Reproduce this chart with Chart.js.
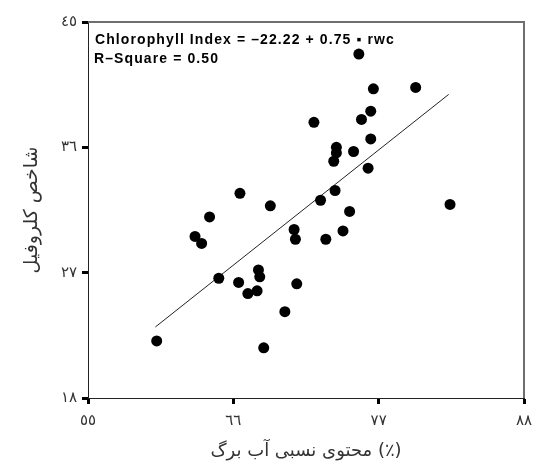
<!DOCTYPE html>
<html>
<head>
<meta charset="utf-8">
<script src="https://cdn.jsdelivr.net/npm/chart.js@4.4.1/dist/chart.umd.min.js"></script>
<style>
    html, body { margin: 0; padding: 0; background: #fff; }
    #wrap { width: 536px; height: 466px; }
</style>
</head>
<body>
<div id="wrap"><canvas id="chart1"></canvas></div>
<script>
// rwc (x) / chlorophyll index (y)
var rwc = [75.5, 76.6, 79.8, 76.4, 75.7, 72.1, 76.4, 73.8, 73.8, 73.6, 75.1, 76.2, 73.7, 72.6, 66.5, 68.8, 64.2, 63.1, 63.6, 74.8,
           74.3, 73.0, 70.6, 70.7, 82.4, 64.9, 66.4, 67.1, 67.8, 67.9, 68.0, 70.8, 69.9, 68.3, 60.2];
var chl = [42.7, 40.2, 40.3, 38.6, 38.0, 37.8, 36.6, 36.0, 35.6, 35.0, 35.7, 34.5, 32.9, 32.2, 32.7, 31.8, 31.0, 29.6, 29.1, 31.4,
           30.0, 29.4, 30.1, 29.4, 31.9, 26.6, 26.3, 25.5, 25.7, 27.2, 26.7, 26.2, 24.2, 21.6, 22.1];

// regression line ends
var fitX = [60.1, 82.3];
var fitY = [23.1, 39.8];

var xTicks = [55, 66, 77, 88];
var yTicks = [18, 27, 36, 45];

var xTitle = 'محتوی نسبی آب برگ (٪)';
var yTitle = 'شاخص کلروفیل';
var noteLines = ['Chlorophyll Index = \u201322.22 + 0.75 \u25AA rwc', 'R\u2013Square = 0.50'];

// arabic-indic digits
function toArabic(n) {
    var d = '٠١٢٣٤٥٦٧٨٩';
    return String(n).replace(/[0-9]/g, function(c){ return d[+c]; });
}

var pts = [];
for (var i = 0; i < rwc.length; i++) pts.push({x: rwc[i], y: chl[i]});
var fit = [];
for (var j = 0; j < fitX.length; j++) fit.push({x: fitX[j], y: fitY[j]});

// top/right frame + equation text
var framePlugin = {
    id: 'frame',
    beforeDatasetsDraw: function(chart) {
        var a = chart.chartArea, ctx = chart.ctx;
        ctx.save();
        ctx.strokeStyle = '#6e6e6e';
        ctx.lineWidth = 2;
        ctx.beginPath();
        ctx.moveTo(a.left, a.top);
        ctx.lineTo(a.right, a.top);
        ctx.lineTo(a.right, a.bottom);
        ctx.stroke();
        ctx.restore();
    },
    afterDatasetsDraw: function(chart) {
        var a = chart.chartArea, ctx = chart.ctx;
        ctx.save();
        ctx.fillStyle = '#000';
        ctx.font = 'bold 14px "Liberation Sans", Arial, sans-serif';
        ctx.letterSpacing = '1.1px';
        ctx.textBaseline = 'middle';
        ctx.fillText(noteLines[0], a.left + 7, a.top + 18);
        ctx.fillText(noteLines[1], a.left + 6, a.top + 37);
        ctx.restore();
    }
};

var ctx = document.getElementById('chart1');
new Chart(ctx, {
    type: 'scatter',
    data: {
        datasets: [{
            data: pts,
            backgroundColor: '#000',
            borderColor: '#000',
            borderWidth: 0,
            pointRadius: 5.5,
            order: 1
        }, {
            type: 'line',
            data: fit,
            borderColor: '#222',
            borderWidth: 1,
            pointRadius: 0,
            fill: false,
            order: 2
        }]
    },
    options: {
        responsive: true,
        maintainAspectRatio: false,
        animation: false,
        layout: { padding: { top: 22, right: 12, left: 0, bottom: 0 } },
        plugins: {
            legend: { display: false },
            tooltip: { enabled: false }
        },
        scales: {
            x: {
                type: 'linear',
                min: 55,
                max: 88,
                afterFit: function(s) { s.height = 68; s.paddingLeft = 0; s.paddingRight = 0; },
                afterBuildTicks: function(s) { s.ticks = xTicks.map(function(v){ return {value: v}; }); },
                border: { display: true, color: '#222', width: 1 },
                grid: { drawOnChartArea: false, drawTicks: true, tickLength: 6, tickWidth: 3, color: '#000' },
                ticks: {
                    padding: 8,
                    color: '#333',
                    font: { family: '"DejaVu Sans", sans-serif', size: 15 },
                    callback: function(v) { return toArabic(v); }
                },
                title: {
                    display: true,
                    text: xTitle,
                    color: '#333',
                    font: { family: '"DejaVu Sans", sans-serif', size: 18 },
                    padding: { top: 0, bottom: 4 }
                }
            },
            y: {
                type: 'linear',
                min: 18,
                max: 45,
                afterFit: function(s) { s.width = 88; },
                afterBuildTicks: function(s) { s.ticks = yTicks.map(function(v){ return {value: v}; }); },
                border: { display: true, color: '#222', width: 1 },
                grid: { drawOnChartArea: false, drawTicks: true, tickLength: 6, tickWidth: 3, color: '#000' },
                ticks: {
                    padding: 5,
                    color: '#333',
                    font: { family: '"DejaVu Sans", sans-serif', size: 15 },
                    callback: function(v) { return toArabic(v); }
                },
                title: {
                    display: true,
                    text: yTitle,
                    color: '#333',
                    font: { family: '"DejaVu Sans", sans-serif', size: 19 },
                    padding: { top: 21, bottom: 0 }
                }
            }
        }
    },
    plugins: [framePlugin]
});
</script>
</body>
</html>
